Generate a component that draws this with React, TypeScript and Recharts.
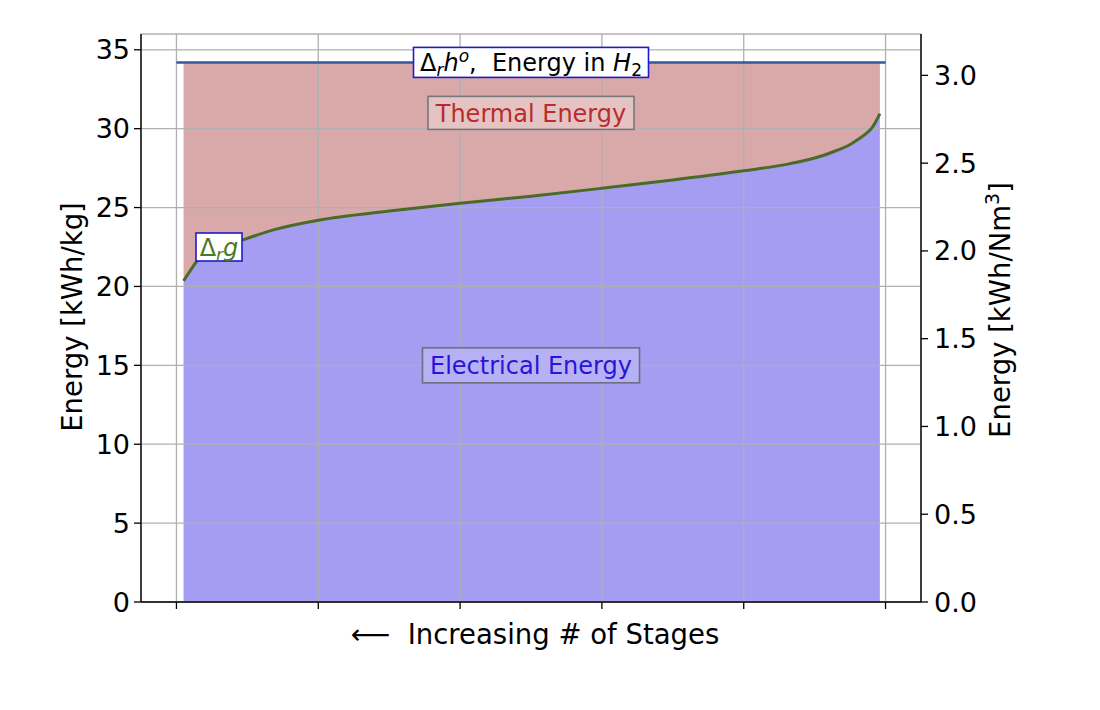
import React from "react";
import {
  ComposedChart,
  Area,
  Line,
  XAxis,
  YAxis,
  CartesianGrid,
  ReferenceDot,
  Label,
} from "recharts";

// Gibbs energy curve (x in tick units, y in kWh/kg)
const stageX = [
  0.05, 0.09, 0.14, 0.25, 0.35, 0.47, 0.69, 1.0, 1.5, 2.0, 2.5, 3.0, 3.5,
  4.0, 4.32, 4.56, 4.65, 4.75, 4.8, 4.86, 4.9, 4.93, 4.96,
];
const gibbsEnergy = [
  20.35, 20.9, 21.55, 22.2, 22.55, 22.95, 23.6, 24.2, 24.78, 25.28, 25.72,
  26.22, 26.75, 27.33, 27.77, 28.3, 28.6, 29.0, 29.28, 29.67, 30.0, 30.42,
  30.95,
];

// enthalpy line (energy in H2)
const enthalpyX = [0, 5];
const enthalpyEnergy = 34.2;

// ticks
const xTicks = [0, 1, 2, 3, 4, 5];
const kgTicks = [0, 5, 10, 15, 20, 25, 30, 35];
const nm3Ticks = [0, 0.5, 1.0, 1.5, 2.0, 2.5, 3.0];
const kgMax = 36;
const nm3PerKg = 0.08988; // kg of H2 per Nm3

const curveRows = stageX.map((x, i) => ({ x, g: gibbsEnergy[i] }));
const enthalpyRows = enthalpyX.map((x) => ({ x, h: enthalpyEnergy }));

const FONT = "DejaVu Sans";

type BoxCfg = {
  w: number;
  h: number;
  bg: string;
  border: string;
  color: string;
  body: React.ReactNode;
};

const boxLabel = (cfg: BoxCfg) => (props: any) => {
  const vb = props.viewBox || {};
  const cx = vb.x + (vb.width || 0) / 2;
  const cy = vb.y + (vb.height || 0) / 2;
  return (
    <g>
      <rect
        x={cx - cfg.w / 2}
        y={cy - cfg.h / 2}
        width={cfg.w}
        height={cfg.h}
        fill={cfg.bg}
        stroke={cfg.border}
        strokeWidth={1.6}
      />
      <text
        x={cx}
        y={cy}
        dy="0.36em"
        textAnchor="middle"
        fontSize={24}
        fontFamily={FONT}
        fill={cfg.color}
        style={{ whiteSpace: "pre" }}
      >
        {cfg.body}
      </text>
    </g>
  );
};

const axisTitle =
  (text: React.ReactNode, dx: number, dy: number, angle: number) =>
  (props: any) => {
    const vb = props.viewBox || {};
    const cx = vb.x + dx;
    const cy = vb.y + dy;
    return (
      <text
        x={cx}
        y={cy}
        dy="0.36em"
        textAnchor="middle"
        fontSize={27.5}
        fontFamily={FONT}
        fill="#000"
        transform={angle ? `rotate(${angle}, ${cx}, ${cy})` : undefined}
        style={{ whiteSpace: "pre" }}
      >
        {text}
      </text>
    );
  };

const tickStyle = { fontSize: 27, fill: "#000", fontFamily: FONT };

const App: React.FC = () => {
  return (
    <div
      style={{
        position: "absolute",
        left: 0,
        top: 0,
        width: 1100,
        height: 710,
        background: "#fff",
      }}
    >
      <ComposedChart
        width={1100}
        height={710}
        data={curveRows}
        margin={{ top: 34, right: 21, bottom: 0, left: 0 }}
      >
        <XAxis
          xAxisId="bottom"
          dataKey="x"
          type="number"
          domain={[-0.25, 5.25]}
          ticks={xTicks}
          allowDataOverflow
          height={108}
          tickSize={7}
          tickFormatter={() => ""}
          axisLine={{ stroke: "#000", strokeWidth: 1.4 }}
          tickLine={{ stroke: "#000", strokeWidth: 1.3 }}
        >
          <Label
            content={axisTitle("\u27F5  Increasing # of Stages", 394, 32, 0)}
          />
        </XAxis>
        <XAxis
          xAxisId="top"
          orientation="top"
          type="number"
          domain={[-0.25, 5.25]}
          height={0}
          tick={false}
          tickLine={false}
          axisLine={{ stroke: "#000", strokeWidth: 1.4 }}
        />
        <YAxis
          yAxisId="kg"
          type="number"
          domain={[0, kgMax]}
          ticks={kgTicks}
          allowDataOverflow
          width={141}
          tick={tickStyle}
          tickSize={7}
          tickMargin={4}
          axisLine={{ stroke: "#000", strokeWidth: 1.4 }}
          tickLine={{ stroke: "#000", strokeWidth: 1.3 }}
        >
          <Label content={axisTitle("Energy [kWh/kg]", 72, 283, -90)} />
        </YAxis>
        <YAxis
          yAxisId="nm3"
          orientation="right"
          type="number"
          domain={[0, kgMax * nm3PerKg]}
          ticks={nm3Ticks}
          allowDataOverflow
          width={158}
          tick={tickStyle}
          tickSize={7}
          tickMargin={6}
          tickFormatter={(v: number) => v.toFixed(1)}
          axisLine={{ stroke: "#000", strokeWidth: 1.4 }}
          tickLine={{ stroke: "#000", strokeWidth: 1.3 }}
        >
          <Label
            content={axisTitle(
              <>
                Energy [kWh/Nm<tspan fontSize={19} dy={-11}>3</tspan>
                <tspan dy={11}>]</tspan>
              </>,
              79,
              276,
              -90
            )}
          />
        </YAxis>

        {/* electrical share: 0 .. Δg */}
        <Area
          xAxisId="bottom"
          yAxisId="kg"
          dataKey="g"
          type="monotone"
          baseValue={0}
          fill="#a59df2"
          fillOpacity={1}
          stroke="none"
          isAnimationActive={false}
        />
        {/* thermal share: Δg .. Δh */}
        <Area
          xAxisId="bottom"
          yAxisId="kg"
          dataKey={(d: any) => [d.g, enthalpyEnergy]}
          type="monotone"
          fill="#d9a8a8"
          fillOpacity={1}
          stroke="none"
          isAnimationActive={false}
        />

        <CartesianGrid
          xAxisId="bottom"
          yAxisId="kg"
          stroke="#b0b0b0"
          strokeWidth={1.3}
          fill="none"
          zIndex={150}
        />

        <Line
          xAxisId="bottom"
          yAxisId="kg"
          dataKey="g"
          type="monotone"
          stroke="#4a6b27"
          strokeWidth={3}
          dot={false}
          isAnimationActive={false}
        />
        <Line
          xAxisId="bottom"
          yAxisId="kg"
          data={enthalpyRows}
          dataKey="h"
          type="linear"
          stroke="#3556a0"
          strokeWidth={2.5}
          dot={false}
          isAnimationActive={false}
        />

        <ReferenceDot
          xAxisId="bottom"
          yAxisId="kg"
          x={2.5}
          y={enthalpyEnergy}
          r={0}
          fill="none"
          stroke="none"
          label={{
            content: boxLabel({
              w: 235,
              h: 30,
              bg: "#fff",
              border: "#1c1ccc",
              color: "#000",
              body: (
                <>
                  {"\u0394"}
                  <tspan fontStyle="italic" fontSize={17} dy={5}>
                    r
                  </tspan>
                  <tspan fontStyle="italic" dy={-5}>
                    h
                  </tspan>
                  <tspan fontStyle="italic" fontSize={17} dy={-9}>
                    o
                  </tspan>
                  <tspan dy={9}>{",  Energy in "}</tspan>
                  <tspan fontStyle="italic">H</tspan>
                  <tspan fontSize={17} dy={5}>
                    2
                  </tspan>
                </>
              ),
            }),
          }}
        />
        <ReferenceDot
          xAxisId="bottom"
          yAxisId="kg"
          x={2.5}
          y={31}
          r={0}
          fill="none"
          stroke="none"
          label={{
            content: boxLabel({
              w: 206,
              h: 33,
              bg: "#e6c3c3",
              border: "#777",
              color: "#b82c2c",
              body: "Thermal Energy",
            }),
          }}
        />
        <ReferenceDot
          xAxisId="bottom"
          yAxisId="kg"
          x={2.5}
          y={15}
          r={0}
          fill="none"
          stroke="none"
          label={{
            content: boxLabel({
              w: 217,
              h: 35,
              bg: "#b6b1f5",
              border: "#6e6e80",
              color: "#2b14d4",
              body: "Electrical Energy",
            }),
          }}
        />
        <ReferenceDot
          xAxisId="bottom"
          yAxisId="kg"
          x={0.3}
          y={22.5}
          r={0}
          fill="none"
          stroke="none"
          label={{
            content: boxLabel({
              w: 46,
              h: 28,
              bg: "#fff",
              border: "#1c1ccc",
              color: "#4b7a24",
              body: (
                <>
                  {"\u0394"}
                  <tspan fontStyle="italic" fontSize={17} dy={5}>
                    r
                  </tspan>
                  <tspan fontStyle="italic" dy={-5}>
                    g
                  </tspan>
                </>
              ),
            }),
          }}
        />
      </ComposedChart>
    </div>
  );
};

export default App;
